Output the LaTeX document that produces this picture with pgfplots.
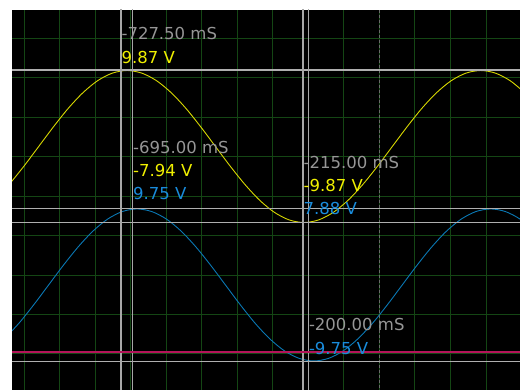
\documentclass[border=0pt]{standalone}
\usepackage{pgfplots}
\pgfplotsset{compat=1.18}
\usepackage{fontspec}
\setmainfont{DejaVu Sans}

\definecolor{gridgreen}{RGB}{20,70,20}
\definecolor{chAline}{RGB}{215,215,0}
\definecolor{chAtext}{RGB}{240,240,0}
\definecolor{chBline}{RGB}{10,120,180}
\definecolor{chBtext}{RGB}{25,140,220}
\definecolor{readout}{RGB}{150,150,150}
\definecolor{cursor}{RGB}{175,175,175}
\definecolor{trigline}{RGB}{180,20,90}

\begin{document}
\begin{tikzpicture}
\path[use as bounding box, fill=white] (-12pt,0pt) rectangle (508pt,390pt);
\begin{axis}[
  at={(0pt,0pt)}, anchor=south west,
  scale only axis, width=508pt, height=380pt,
  xmin=-1033.8, xmax=395.6,
  ymin=-24.57, ymax=23.58,
  axis background/.style={fill=black},
  axis line style={draw=none},
  xtick={-1000,-900,...,300}, ytick={-20,-15,...,20},
  xticklabels={}, yticklabels={},
  major tick length=0pt,
  grid=major,
  major grid style={color=gridgreen, line width=1pt},
  clip=true,
]
% channel A (time in ms, display units 5 per division)
\addplot[chAline, line width=0.9pt, smooth] coordinates {
(-1041.67,1.47) (-1000.21,3.79) (-958.75,6.28) (-917.29,8.77) (-875.83,11.10)
(-834.37,13.09) (-792.92,14.62) (-751.46,15.58) (-710.00,15.91) (-668.54,15.58)
(-627.08,14.62) (-585.63,13.09) (-544.17,11.10) (-502.71,8.77) (-461.25,6.28)
(-419.79,3.79) (-378.33,1.47) (-336.88,-0.53) (-295.42,-2.06) (-253.96,-3.02)
(-212.50,-3.35) (-171.04,-3.02) (-129.59,-2.06) (-88.13,-0.53) (-46.67,1.47)
(-5.21,3.79) (36.25,6.28) (77.71,8.77) (119.16,11.10) (160.62,13.09)
(202.08,14.62) (243.54,15.58) (285.00,15.91) (326.46,15.58) (367.92,14.62)
(409.37,13.09)
};
% channel B
\addplot[chBline, line width=0.9pt, smooth] coordinates {
(-1055.12,-18.07) (-1013.67,-16.08) (-972.21,-13.75) (-930.75,-11.26) (-889.29,-8.77)
(-847.83,-6.45) (-806.37,-4.45) (-764.92,-2.92) (-723.46,-1.96) (-682.00,-1.63)
(-640.54,-1.96) (-599.08,-2.92) (-557.63,-4.45) (-516.17,-6.45) (-474.71,-8.77)
(-433.25,-11.26) (-391.79,-13.75) (-350.33,-16.08) (-308.88,-18.07) (-267.42,-19.60)
(-225.96,-20.56) (-184.50,-20.89) (-143.04,-20.56) (-101.59,-19.60) (-60.13,-18.07)
(-18.67,-16.08) (22.79,-13.75) (64.25,-11.26) (105.71,-8.77) (147.16,-6.45)
(188.62,-4.45) (230.08,-2.92) (271.54,-1.96) (313.00,-1.63) (354.46,-1.96)
(395.92,-2.92) (437.37,-4.45)
};
% trigger position
\addplot[color=readout!70!black, line width=1pt, dash pattern=on 3pt off 2pt] coordinates {(0,-30) (0,30)};
% horizontal cursors
\addplot[cursor, line width=1.2pt] coordinates {(-1100,15.98) (500,15.98)};
\addplot[cursor, line width=1.2pt] coordinates {(-1100,-1.55) (500,-1.55)};
\addplot[cursor, line width=1.2pt] coordinates {(-1100,-3.37) (500,-3.37)};
\addplot[cursor, line width=1.2pt] coordinates {(-1100,-20.98) (500,-20.98)};
% vertical cursors
\addplot[cursor!110, line width=1.4pt] coordinates {(-727.5,-30) (-727.5,30)};
\addplot[cursor!110, line width=1.4pt] coordinates {(-695,-30) (-695,30)};
\addplot[cursor!110, line width=1.4pt] coordinates {(-215,-30) (-215,30)};
\addplot[cursor!110, line width=1.4pt] coordinates {(-200,-30) (-200,30)};
% trigger level
\addplot[trigline, line width=1.8pt] coordinates {(-1100,-19.79) (500,-19.79)};

% cursor readouts
\begin{scope}[every node/.style={anchor=base west, inner sep=0pt, xshift=0.5pt, font=\fontsize{16.5}{20}\selectfont}]
\node[text=readout] at (axis cs:-727.5,19.87) {-727.50 mS};
\node[text=chAtext] at (axis cs:-727.5,16.83) {9.87 V};
\node[text=readout] at (axis cs:-695,5.42) {-695.00 mS};
\node[text=chAtext] at (axis cs:-695,2.46) {-7.94 V};
\node[text=chBtext] at (axis cs:-695,-0.49) {9.75 V};
\node[text=readout] at (axis cs:-215,3.52) {-215.00 mS};
\node[text=chAtext] at (axis cs:-215,0.56) {-9.87 V};
\node[text=chBtext] at (axis cs:-215,-2.39) {7.88 V};
\node[text=readout] at (axis cs:-200,-17.06) {-200.00 mS};
\node[text=chBtext] at (axis cs:-200,-20.13) {-9.75 V};
\end{scope}
\end{axis}
\end{tikzpicture}
\end{document}
